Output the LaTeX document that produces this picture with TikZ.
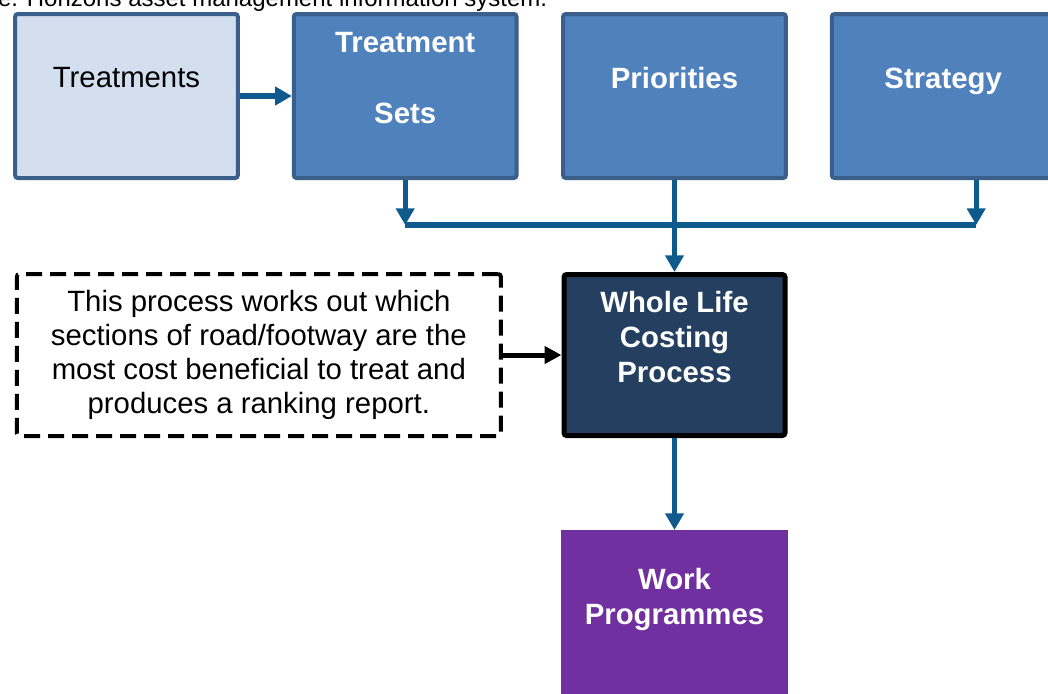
\documentclass[tikz,border=0pt]{standalone}
\usepackage{fontspec}
\setmainfont{Liberation Sans}
\usetikzlibrary{arrows.meta, positioning}

\definecolor{lightbox}{HTML}{D3DFEE}
\definecolor{edgeblue}{HTML}{3A5F8B}
\definecolor{stepblue}{HTML}{4F81BD}
\definecolor{navy}{HTML}{243F60}
\definecolor{plum}{HTML}{7030A0}
\definecolor{flowblue}{HTML}{0F5A8D}

\begin{document}
\begin{tikzpicture}[
    x=0.75pt, y=-0.75pt,
    inbox/.style={
        draw=edgeblue, line width=3pt, rounded corners=2pt,
        minimum width=167pt, minimum height=123pt
    },
    boxtext/.style={
        yshift=13.5pt, align=center,
        font=\fontsize{22pt}{26pt}\selectfont
    },
    headtext/.style={
        text=white, font=\fontsize{22pt}{26pt}\selectfont\bfseries
    },
    flow/.style={
        draw=flowblue, line width=4pt,
        -{Triangle[length=12.5pt, width=13.5pt]}
    },
    pipe/.style={draw=flowblue, line width=4pt},
    pointer/.style={
        line width=3.75pt,
        -{Triangle[length=12.75pt, width=12.75pt]}
    }
]
\useasboundingbox (0,0) rectangle (1048,693);

\node[anchor=base west, font=\fontsize{18pt}{21pt}\selectfont] (caption)
    at (-6.7,6) {e. Horizons asset management information system.};

% inputs along the top
\node[inbox, fill=lightbox,
    label={[boxtext]center:Treatments}] (treat) at (126.5,96) {};
\node[inbox, fill=stepblue, right=39pt of treat,
    label={[boxtext, headtext]center:{Treatment\\[27pt]Sets}}] (tset) {};
\node[inbox, fill=stepblue, right=32pt of tset,
    label={[boxtext, headtext]center:Priorities}] (prio) {};
\node[inbox, fill=stepblue, right=31.5pt of prio,
    label={[boxtext, headtext, text depth=0pt]center:Strategy}] (strat) {};

% costing step and its result
\node[draw=black, line width=3.75pt, rounded corners=2pt, fill=navy,
    minimum width=165.75pt, minimum height=120.75pt, below=69pt of prio,
    label={[boxtext, headtext]center:{Whole Life\\Costing\\Process}}] (wlc) {};
\node[fill=plum, minimum width=170pt, minimum height=124.5pt,
    below=69pt of wlc,
    label={[boxtext, headtext, yshift=-3pt]center:{Work\\Programmes}}] (work) {};

\node[draw, line width=3pt, dash pattern=on 12pt off 6pt, rounded corners=2pt,
    fill=white, minimum width=363pt, minimum height=121.5pt,
    align=center, font=\fontsize{22pt}{25.5pt}\selectfont,
    left=44pt of wlc] (note) {
    This process works out which\\
    sections of road/footway are the\\
    most cost beneficial to treat and\\
    produces a ranking report.
};

% connectors
\coordinate (bus) at (674,225);
\coordinate (stratdrop) at ([xshift=24.75pt]strat.south);

\draw[pipe] (tset.south |- bus) -- (stratdrop |- bus);
\draw[flow] (treat.east) -- (tset.west);
\draw[flow] (tset.south) -- (tset.south |- bus);
\draw[flow] (stratdrop) -- (stratdrop |- bus);
\draw[flow] (prio.south) -- (wlc.north);
\draw[flow] (wlc.south) -- (work.north);
\draw[pointer] (note.east) -- (wlc.west);

\end{tikzpicture}
\end{document}
